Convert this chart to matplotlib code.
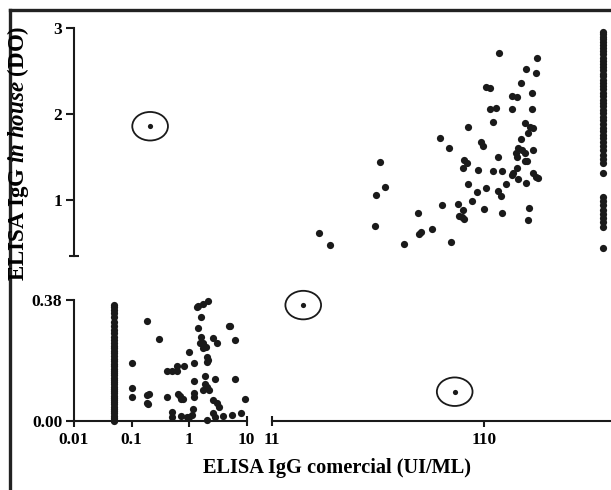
"""
ELISA IgG in house vs commercial - scatter with broken axes
"""
import numpy as np
from matplotlib import pyplot as plt
from matplotlib.path import Path
from matplotlib.lines import Line2D

plt.rcParams['font.family'] = ['Liberation Serif', 'DejaVu Serif']
plt.rcParams['font.weight'] = 'bold'
plt.rcParams['mathtext.fontset'] = 'custom'
plt.rcParams['mathtext.rm'] = 'Liberation Serif:bold'
plt.rcParams['mathtext.it'] = 'Liberation Serif:italic:bold'

# --- data (commercial UI/mL, in house DO) ---
# samples below the commercial detection limit
low_col_x = 0.05
low_col_y = [0.365, 0.358, 0.35, 0.34, 0.328, 0.31, 0.298, 0.286, 0.275, 0.265,
             0.255, 0.245, 0.236, 0.228, 0.22, 0.212, 0.204, 0.196, 0.188, 0.18,
             0.172, 0.164, 0.157, 0.15, 0.143, 0.136, 0.129, 0.122, 0.115, 0.108,
             0.101, 0.094, 0.087, 0.08, 0.073, 0.066, 0.059, 0.052, 0.045, 0.038,
             0.031, 0.024, 0.017, 0.01, 0.004, 0.0]

# samples above the commercial upper limit
high_col_x = 400
high_col_y = [2.96, 2.93, 2.90, 2.87, 2.84, 2.80, 2.77, 2.73, 2.70, 2.66, 2.62,
              2.59, 2.55, 2.51, 2.47, 2.44, 2.40, 2.36, 2.33, 2.29, 2.25, 2.21,
              2.17, 2.13, 2.09, 2.05, 2.01, 1.97, 1.93, 1.89, 1.84, 1.80, 1.76,
              1.72, 1.68, 1.63, 1.58, 1.53, 1.48, 1.43, 1.32, 1.04, 0.99, 0.94,
              0.89, 0.84, 0.79, 0.74, 0.69, 0.44]

# concordant negatives
neg_x = [0.184, 0.305, 0.103, 0.103, 0.103, 0.184, 0.2, 0.184, 0.195, 0.41,
         0.41, 0.50, 0.61, 0.61, 0.82, 1.01, 1.22, 1.22, 1.22, 1.22,
         0.63, 0.7, 0.72, 0.78, 1.36, 1.41, 1.73, 2.11, 1.62, 1.45,
         1.62, 1.75, 1.55, 1.75, 1.95, 2.05, 2.15, 2.05, 2.58, 3.03,
         2.83, 1.85, 1.85, 2.05, 2.2, 1.73, 2.6, 3.03, 3.3, 4.83,
         5.16, 6.14, 6.3, 9.4, 8.0, 5.5, 3.95, 2.83, 2.58, 2.05,
         1.18, 1.11, 1.01, 0.91, 0.73, 0.51, 0.51]
neg_y = [0.315, 0.258, 0.182, 0.103, 0.075, 0.082, 0.086, 0.056, 0.052, 0.074,
         0.158, 0.158, 0.156, 0.174, 0.173, 0.218, 0.183, 0.126, 0.087, 0.076,
         0.085, 0.08, 0.07, 0.07, 0.359, 0.361, 0.366, 0.377, 0.328, 0.293,
         0.263, 0.244, 0.244, 0.228, 0.233, 0.202, 0.192, 0.186, 0.260, 0.244,
         0.131, 0.142, 0.115, 0.108, 0.097, 0.097, 0.066, 0.058, 0.045, 0.299,
         0.299, 0.254, 0.131, 0.069, 0.024, 0.019, 0.017, 0.014, 0.026, 0.004,
         0.037, 0.019, 0.014, 0.013, 0.016, 0.029, 0.014]

# concordant positives
pos_x = [18.3, 20.6, 35.5, 37.6, 34.1, 33.7, 46.1, 53.5, 54.2, 55.2,
         62.3, 68.2, 75.2, 69.9, 76.8, 83.1, 84.1, 129.5, 195, 173,
         193, 164, 113, 117, 149, 158, 185, 117, 126, 149,
         186, 121, 172, 181.6, 187, 177, 92.2, 106.5, 109, 164,
         128.5, 160, 166, 156, 172, 158, 175, 171, 188, 88.8,
         91.1, 87.8, 103.4, 122, 134, 151, 158, 150, 187, 194,
         197, 173, 160, 92, 113, 102.3, 96.2, 127.6, 133, 140,
         86.4, 88.8, 87.8, 110, 134, 179.6, 177]
pos_y = [0.62, 0.474, 1.447, 1.156, 1.063, 0.698, 0.489, 0.846, 0.605, 0.632,
         0.664, 1.72, 1.61, 0.94, 0.512, 0.951, 0.815, 2.709, 2.651, 2.523,
         2.476, 2.367, 2.313, 2.30, 2.212, 2.197, 2.243, 2.057, 2.076, 2.06,
         2.06, 1.906, 1.901, 1.847, 1.843, 1.778, 1.855, 1.68, 1.63, 1.708,
         1.505, 1.603, 1.583, 1.545, 1.545, 1.505, 1.459, 1.459, 1.583, 1.467,
         1.428, 1.37, 1.35, 1.342, 1.339, 1.319, 1.37, 1.292, 1.319, 1.272,
         1.26, 1.203, 1.242, 1.184, 1.144, 1.098, 0.99, 1.11, 1.051, 1.184,
         0.807, 0.78, 0.885, 0.896, 0.853, 0.905, 0.768]

# discordant samples (circled)
disc_x = [0.21, 15.4, 80.0]
disc_y = [1.86, 0.364, 0.092]

# axis segments
X_LEFT = (0.01, 10)
X_RIGHT = (11, 438)
Y_LOW = (0, 0.38)
Y_HIGH = (0.353, 3)

W, H = 611, 490
INK = '#1a1a1a'
SPINE_W = 1.5


def frac(px_left, px_top, px_right, px_bottom):
    return [px_left / W, 1 - px_bottom / H, (px_right - px_left) / W, (px_bottom - px_top) / H]


fig = plt.figure(figsize=(W / 100, H / 100), dpi=100)

ax_ll = fig.add_axes(frac(74, 300, 246.7, 421))
ax_lr = fig.add_axes(frac(272.3, 300, 611, 421))
ax_ul = fig.add_axes(frac(74, 28.3, 246.7, 255.7))
ax_ur = fig.add_axes(frac(272.3, 28.3, 611, 255.7))

# (axes, x range, lower panel?)
panels = [(ax_ll, X_LEFT, True), (ax_lr, X_RIGHT, True),
          (ax_ul, X_LEFT, False), (ax_ur, X_RIGHT, False)]

for ax, xl, low in panels:
    ax.set_xscale('log')
    ax.set_xlim(*xl)
    ax.set_ylim(*(Y_LOW if low else Y_HIGH))
    ax.patch.set_alpha(0)
    for s in ax.spines.values():
        s.set_visible(False)
        s.set_linewidth(SPINE_W)
        s.set_color(INK)
    ax.set_xticks([])
    ax.set_xticks([], minor=True)
    ax.set_yticks([])
    ax.set_yticks([], minor=True)
    ax.tick_params(which='both', width=SPINE_W, color=INK, labelsize=12.5, labelcolor='black')


def draw(x, y, **kw):
    """Route points to the panel that holds their value range"""
    x = np.asarray(x, dtype=float)
    y = np.asarray(y, dtype=float)
    for ax, xl, low in panels:
        in_x = (x <= X_LEFT[1]) if xl == X_LEFT else (x > X_LEFT[1])
        in_y = (y <= Y_LOW[1]) if low else (y > Y_LOW[1])
        m = in_x & in_y
        if m.any():
            ax.scatter(x[m], y[m], clip_on=False, zorder=3, **kw)


dot = dict(s=27, color=INK, linewidths=0)
draw([low_col_x] * len(low_col_y), low_col_y, **dot)
draw([high_col_x] * len(high_col_y), high_col_y, **dot)
draw(neg_x, neg_y, **dot)
draw(pos_x, pos_y, **dot)

# circled discordant samples
circ = Path.unit_circle()
ellipse = Path(circ.vertices * np.array([1.0, 0.8]), circ.codes)
draw(disc_x, disc_y, s=14, color=INK, linewidths=0)
draw(disc_x, disc_y, s=660, marker=ellipse, facecolors='none', edgecolors=INK, linewidths=1.3)

# lower-left axes
ax_ll.spines['left'].set_visible(True)
ax_ll.spines['bottom'].set_visible(True)
ax_ll.set_xticks([0.01, 0.1, 1], ['0.01', '0.1', '1'])
ax_ll.set_xticks([10], ['10'], minor=True)
ax_ll.set_yticks([0, 0.38], ['0.00', '0.38'])
ax_ll.tick_params(axis='x', which='major', direction='out', length=4.3, pad=3.5)
ax_ll.tick_params(axis='x', which='minor', direction='inout', length=7.2, pad=4.2)
ax_ll.tick_params(axis='y', which='major', direction='out', length=5.8, pad=2.5)

# lower-right axes
ax_lr.spines['bottom'].set_visible(True)
ax_lr.set_xticks([110], ['110'])
ax_lr.set_xticks([11], ['11'], minor=True)
ax_lr.tick_params(axis='x', which='major', direction='out', length=4.3, pad=3.5)
ax_lr.tick_params(axis='x', which='minor', direction='inout', length=7.2, pad=4.2)

# upper-left axes
ax_ul.spines['left'].set_visible(True)
ax_ul.set_yticks([1, 2, 3], ['1', '2', '3'])
ax_ul.set_yticks([Y_HIGH[0]], [''], minor=True)
ax_ul.tick_params(axis='y', which='major', direction='out', length=5.8, pad=2.5)
ax_ul.tick_params(axis='y', which='minor', direction='inout', length=7.2)

# axis titles
fig.text(337 / W, 1 - 468 / H, 'ELISA IgG comercial (UI/ML)', ha='center', va='center',
         fontsize=14.7, fontweight='bold')
fig.text(18 / W, 1 - 153 / H, r'ELISA IgG $\mathit{in\ house}$ (DO)', ha='center', va='center',
         rotation=90, fontsize=16.5, fontweight='bold')

# frame around the figure
fig.add_artist(Line2D([10 / W, 10 / W], [0, 1 - 10 / H], color='#222222', lw=2.4))
fig.add_artist(Line2D([10 / W, 1], [1 - 10 / H, 1 - 10 / H], color='#222222', lw=2.4))

fig.savefig('out.png', dpi=100)
